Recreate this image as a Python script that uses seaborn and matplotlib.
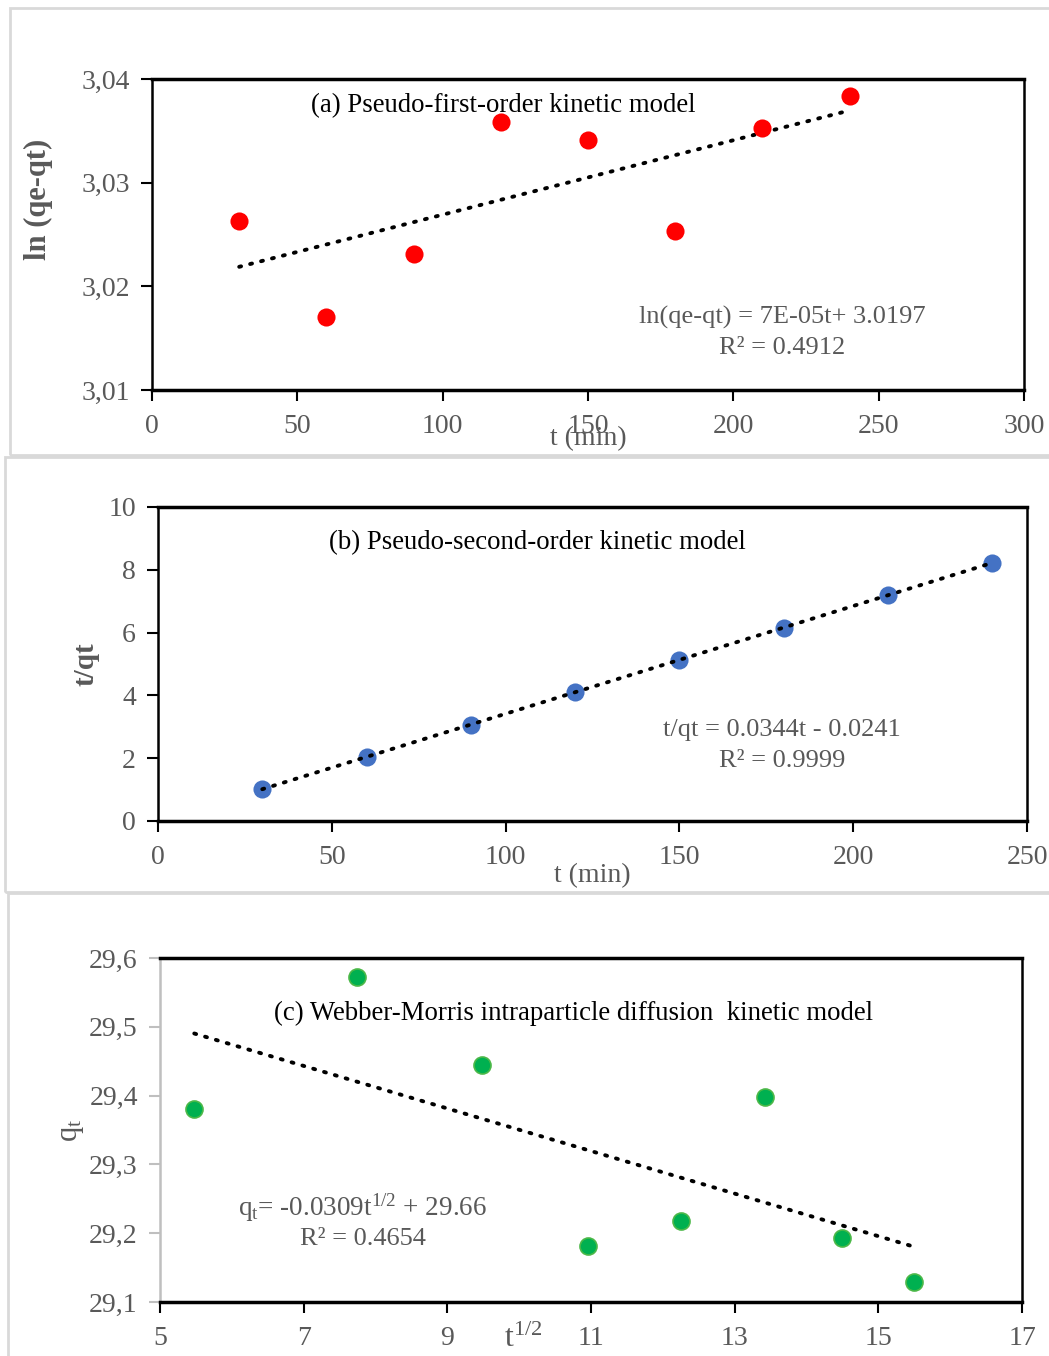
import numpy as np
import pandas as pd
import matplotlib
matplotlib.use("Agg")
import matplotlib.pyplot as plt
import seaborn as sns
from matplotlib.patches import Rectangle

# ---------------- data ----------------
t_min = [30, 60, 90, 120, 150, 180, 210, 240]
ln_qe_qt = [3.0263, 3.0170, 3.0231, 3.0359, 3.0341, 3.0253, 3.0353, 3.0384]
t_over_qt = [1.02, 2.04, 3.06, 4.11, 5.13, 6.15, 7.20, 8.22]
sqrt_t = [5.477, 7.746, 9.487, 10.954, 12.247, 13.416, 14.491, 15.492]
qt_vals = [29.380, 29.572, 29.444, 29.181, 29.218, 29.398, 29.193, 29.129]

a_xticks = [0, 50, 100, 150, 200, 250, 300]
a_yticks = [3.01, 3.02, 3.03, 3.04]
a_yticklabels = ["3,01", "3,02", "3,03", "3,04"]
b_xticks = [0, 50, 100, 150, 200, 250]
b_yticks = [0, 2, 4, 6, 8, 10]
c_xticks = [5, 7, 9, 11, 13, 15, 17]
c_yticks = [29.1, 29.2, 29.3, 29.4, 29.5, 29.6]
c_yticklabels = ["29,1", "29,2", "29,3", "29,4", "29,5", "29,6"]

title_a = "(a) Pseudo-first-order kinetic model"
title_b = "(b) Pseudo-second-order kinetic model"
title_c = "(c) Webber-Morris intraparticle diffusion  kinetic model"
eq_a = ["ln(qe-qt) = 7E-05t+ 3.0197", "R² = 0.4912"]
eq_b = ["t/qt = 0.0344t - 0.0241", "R² = 0.9999"]
eq_c = [r"$\mathregular{q_t}$= -0.0309$\mathregular{t^{1/2}}$ + 29.66", "R² = 0.4654"]

df_a = pd.DataFrame({"t": t_min, "y": ln_qe_qt})
df_b = pd.DataFrame({"t": t_min, "y": t_over_qt})
df_c = pd.DataFrame({"t": sqrt_t, "y": qt_vals})

# ---------------- style ----------------
sns.set_theme(style="white")
plt.rcParams["font.family"] = ["Liberation Serif", "DejaVu Serif"]
plt.rcParams["mathtext.fontset"] = "custom"
plt.rcParams["mathtext.rm"] = "Liberation Serif"
plt.rcParams["mathtext.it"] = "Liberation Serif:italic"

W, H = 1049, 1356
fig = plt.figure(figsize=(W / 100, H / 100), dpi=100)
fig.patch.set_facecolor("white")

GREY = "#595959"
TS = 19.3   # title size
ES = 19     # equation size
KS = 20     # tick label size


def ax_px(l, t, r, b):
    return fig.add_axes([l / W, 1 - b / H, (r - l) / W, (b - t) / H])


def ftext(x, y, s, **kw):
    fig.text(x / W, 1 - y / H, s, **kw)


# panel borders
for (l, t, r, b) in [(10, 8, 1060, 455), (5, 457, 1060, 892), (8, 893, 1060, 1360)]:
    fig.patches.append(Rectangle((l / W, 1 - b / H), (r - l) / W, (b - t) / H,
                                 transform=fig.transFigure, fill=False,
                                 edgecolor="#D9D9D9", lw=2, zorder=0))

line_kws = dict(color="black", lw=2.8, linestyle=(0, (0.5, 2.4)),
                dash_capstyle="round")


def style_axes(ax, left_color="black"):
    for s in ["top", "bottom"]:
        ax.spines[s].set_color("black")
        ax.spines[s].set_linewidth(2.5)
    ax.spines["right"].set_color("black")
    ax.spines["right"].set_linewidth(1.8)
    ax.spines["left"].set_color(left_color)
    ax.spines["left"].set_linewidth(1.8)
    ax.tick_params(axis="x", direction="out", length=8, width=1.5, color="black",
                   labelsize=KS, labelcolor=GREY, pad=9, bottom=True)
    ax.tick_params(axis="y", direction="out", length=8, width=1.5, color=left_color,
                   labelsize=KS, labelcolor=GREY, pad=8, left=True)
    ax.set_xlabel("")
    ax.set_ylabel("")
    ax.grid(False)


# ---------------- panel a ----------------
ax1 = ax_px(152, 79, 1024, 390)
sns.regplot(data=df_a, x="t", y="y", ax=ax1, scatter=False, ci=None,
            truncate=True, line_kws=line_kws)
sns.scatterplot(data=df_a, x="t", y="y", ax=ax1, color="#FF0000", s=170,
                edgecolor="#FF0000", linewidth=0, zorder=3)
ax1.set_xlim(0, 300)
ax1.set_ylim(3.01, 3.04)
ax1.set_xticks(a_xticks)
ax1.set_yticks(a_yticks)
ax1.set_yticklabels(a_yticklabels)
style_axes(ax1)

ftext(503, 106, title_a, fontsize=TS, color="black", ha="center", va="center")
ftext(782, 317, eq_a[0], fontsize=ES, color=GREY, ha="center", va="center")
ftext(782, 348, eq_a[1], fontsize=ES, color=GREY, ha="center", va="center")
ftext(38, 199, "ln (qe-qt)", fontsize=22, fontweight="bold", color=GREY,
      ha="center", va="center", rotation=90)
ftext(588, 439, "t (min)", fontsize=20, color=GREY, ha="center", va="center")

# ---------------- panel b ----------------
ax2 = ax_px(158, 507, 1027, 821)
sns.regplot(data=df_b, x="t", y="y", ax=ax2, scatter=False, ci=None,
            truncate=True, line_kws=line_kws)
sns.scatterplot(data=df_b, x="t", y="y", ax=ax2, color="#4472C4", s=170,
                edgecolor="#4472C4", linewidth=0, zorder=2)
ax2.lines[0].set_zorder(3)
ax2.set_xlim(0, 250)
ax2.set_ylim(0, 10)
ax2.set_xticks(b_xticks)
ax2.set_yticks(b_yticks)
style_axes(ax2)

ftext(537, 543, title_b, fontsize=TS, color="black", ha="center", va="center")
ftext(782, 730, eq_b[0], fontsize=ES, color=GREY, ha="center", va="center")
ftext(782, 761, eq_b[1], fontsize=ES, color=GREY, ha="center", va="center")
ftext(86, 664, "t/qt", fontsize=21, fontweight="bold", color=GREY,
      ha="center", va="center", rotation=90)
ftext(592, 876, "t (min)", fontsize=20, color=GREY, ha="center", va="center")

# ---------------- panel c ----------------
ax3 = ax_px(160, 958, 1022, 1302)
sns.regplot(data=df_c, x="t", y="y", ax=ax3, scatter=False, ci=None,
            truncate=True, line_kws=line_kws)
sns.scatterplot(data=df_c, x="t", y="y", ax=ax3, color="#00B050", s=150,
                edgecolor="#4CB848", linewidth=1.2, zorder=3)
ax3.set_xlim(5, 17)
ax3.set_ylim(29.1, 29.6)
ax3.set_xticks(c_xticks)
ax3.set_yticks(c_yticks)
ax3.set_yticklabels(c_yticklabels)
style_axes(ax3, left_color="#BFBFBF")

ftext(574, 1013, title_c, fontsize=TS, color="black", ha="center", va="center")
ftext(363, 1208, eq_c[0], fontsize=ES + 0.5, color=GREY, ha="center", va="center")
ftext(363, 1239, eq_c[1], fontsize=ES, color=GREY, ha="center", va="center")
ftext(72, 1130, r"$\mathregular{q_t}$", fontsize=22, color=GREY,
      ha="center", va="center", rotation=90)
ftext(523, 1339, r"$\mathregular{t^{1/2}}$", fontsize=23, color=GREY,
      ha="center", va="center")

fig.savefig("out.png", dpi=100, facecolor="white")
